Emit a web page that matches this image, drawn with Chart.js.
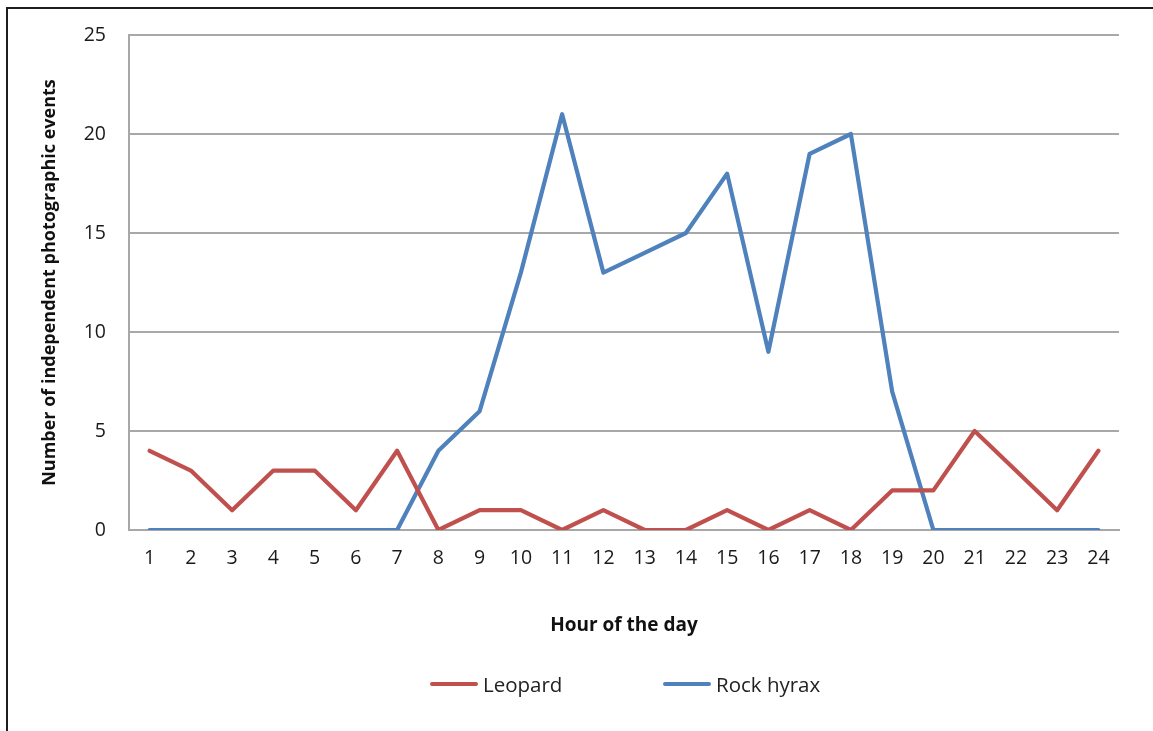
<!DOCTYPE html>
<html>
<head>
<meta charset="utf-8">
<script src="https://cdn.jsdelivr.net/npm/chart.js@4.4.1/dist/chart.umd.min.js"></script>
<style>
  html, body { margin: 0; padding: 0; background: #fff; overflow: hidden; }
  #wrap { position: relative; width: 1153px; height: 731px; }
  #frame { position: absolute; left: 6px; top: 7px; width: 2000px; height: 2000px;
           border: 2px solid #1e1e1e; box-sizing: border-box; }
  #chart { position: absolute; left: 0; top: 0; }
  #legend { position: absolute; left: 430px; top: 670px; display: flex;
            font-family: "Open Sans", sans-serif; font-size: 20.5px; color: #222; }
  .item { display: flex; align-items: center; width: 233px; }
  .swatch { width: 48px; height: 4.5px; border-radius: 2px; margin-right: 5px; }
</style>
</head>
<body>
<div id="wrap">
  <div id="frame"></div>
  <canvas id="chart" width="1153" height="731"></canvas>
  <div id="legend"></div>
</div>
<script>
// Camera-trap activity by hour of the day
const hours = ['1','2','3','4','5','6','7','8','9','10','11','12','13','14','15','16','17','18','19','20','21','22','23','24'];
const leopard = [4, 3, 1, 3, 3, 1, 4, 0, 1, 1, 0, 1, 0, 0, 1, 0, 1, 0, 2, 2, 5, 3, 1, 4];
const rockHyrax = [0, 0, 0, 0, 0, 0, 0, 4, 6, 13, 21, 13, 14, 15, 18, 9, 19, 20, 7, 0, 0, 0, 0, 0];
const seriesNames = ['Leopard', 'Rock hyrax'];
const seriesColors = ['#C0504D', '#4F81BD'];
const yTicks = [0, 5, 10, 15, 20, 25];

const FONT = '"Open Sans", sans-serif';
const gridGray = '#a8a8a8';

const ctx = document.getElementById('chart').getContext('2d');
const chart = new Chart(ctx, {
  type: 'line',
  data: {
    labels: hours,
    datasets: [leopard, rockHyrax].map((values, i) => ({
      label: seriesNames[i],
      data: values,
      borderColor: seriesColors[i],
      backgroundColor: seriesColors[i],
      borderWidth: 4.2,
      borderJoinStyle: 'round',
      borderCapStyle: 'round',
      pointRadius: 0,
      tension: 0,
      fill: false
    }))
  },
  options: {
    responsive: false,
    animation: false,
    layout: { padding: { left: 0, top: 35, right: 34, bottom: 81 } },
    plugins: {
      legend: { display: false },
      tooltip: { enabled: false }
    },
    scales: {
      x: {
        offset: true,
        grid: { display: false, drawTicks: false },
        border: { display: true, color: gridGray, width: 2 },
        ticks: { color: '#1a1a1a', font: { family: FONT, size: 19.5 }, padding: 17, maxRotation: 0, autoSkip: false },
        title: {
          display: true, text: 'Hour of the day', color: '#111',
          font: { family: FONT, size: 19, weight: 'bold' }, padding: { top: 0, bottom: 13 }
        },
        afterFit: s => { s.height = 120; }
      },
      y: {
        min: 0, max: 25,
        afterBuildTicks: s => { s.ticks = yTicks.map(v => ({ value: v })); },
        grid: { color: gridGray, lineWidth: 2, drawTicks: false },
        border: { display: true, color: gridGray, width: 2 },
        ticks: { color: '#1a1a1a', font: { family: FONT, size: 19.5 }, padding: 23 },
        title: {
          display: true, text: 'Number of independent photographic events', color: '#111',
          font: { family: FONT, size: 18, weight: 'bold' }, padding: { top: 39, bottom: 0 }
        },
        afterFit: s => { s.width = 129; }
      }
    }
  }
});

// Legend built from the chart's datasets
const legendEl = document.getElementById('legend');
chart.data.datasets.forEach(ds => {
  const item = document.createElement('div');
  item.className = 'item';
  const sw = document.createElement('span');
  sw.className = 'swatch';
  sw.style.background = ds.borderColor;
  const txt = document.createElement('span');
  txt.textContent = ds.label;
  item.appendChild(sw);
  item.appendChild(txt);
  legendEl.appendChild(item);
});
</script>
</body>
</html>
